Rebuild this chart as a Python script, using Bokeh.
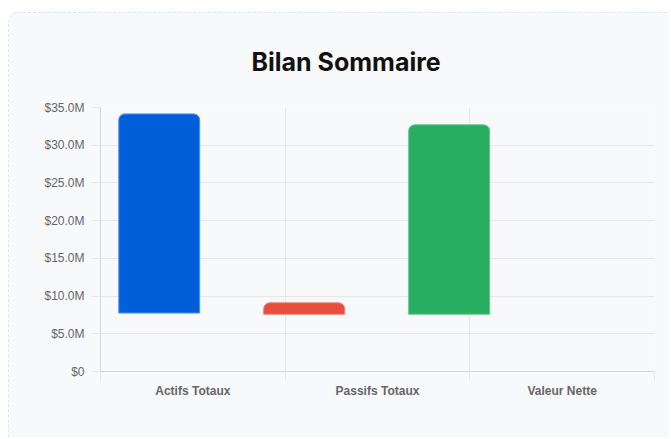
from bokeh.plotting import figure
from bokeh.models import FixedTicker, Range1d
from bokeh.embed import file_html
from bokeh.resources import INLINE

# ---- data (values in millions of $) ----
categories = ["Actifs Totaux", "Passifs Totaux", "Valeur Nette"]
bar_top = [34.15, 9.1, 32.7]
bar_bottom = [7.75, 7.6, 7.6]
bar_colors = ["#005fd8", "#e74c3c", "#27ae60"]
bar_edge = ["#4a90f0", "#f07a6c", "#5cc887"]
bar_pos = [0.318, 1.103, 1.888]          # horizontal placement as drawn in the reference
y_ticks = [0, 5, 10, 15, 20, 25, 30, 35]
y_tick_labels = ["$0", "$5.0M", "$10.0M", "$15.0M", "$20.0M", "$25.0M", "$30.0M", "$35.0M"]
title_text = "Bilan Sommaire"

BG = "#f8f9fb"
GRID = "#e6e6e6"
AXIS = "#d4d4d4"
TXT = "#666666"

p = figure(width=661, height=425, x_range=Range1d(0, len(categories)), y_range=Range1d(0, 35),
           output_backend="svg", toolbar_location=None,
           min_border_left=91, min_border_right=16, min_border_top=40, min_border_bottom=67)
p.styles = {"margin-top": "12px", "margin-left": "8px",
            "border-top": "1px dashed #d3e3f9", "border-left": "1px dashed #d3e3f9",
            "border-top-left-radius": "10px", "overflow": "hidden"}
p.background_fill_color = BG
p.border_fill_color = BG
p.outline_line_color = None

p.title.text = title_text
p.title.align = "left"
p.title.offset = 151
p.title.vertical_align = "bottom"
p.title.standoff = 62
p.title.text_font = "Inter"
p.title.text_font_style = "bold"
p.title.text_font_size = "25px"
p.title.text_color = "#111111"

p.vbar(x=bar_pos, width=0.438, top=bar_top, bottom=bar_bottom, fill_color=bar_colors,
       line_color=bar_edge, line_width=1, border_radius=(6, 6, 0, 0))

cat_centers = [i + 0.5 for i in range(len(categories))]
cat_edges = [i for i in range(len(categories) + 1)]

xa = p.xaxis[0]
xa.ticker = FixedTicker(ticks=cat_centers, minor_ticks=cat_edges)
xa.major_label_overrides = {c: lab for c, lab in zip(cat_centers, categories)}
xa.major_tick_line_color = None
xa.minor_tick_in = 0
xa.minor_tick_out = 9
xa.minor_tick_line_color = GRID
xa.axis_line_color = AXIS
xa.major_label_text_font = "Liberation Sans"
xa.major_label_text_font_style = "bold"
xa.major_label_text_font_size = "12px"
xa.major_label_text_color = TXT
xa.major_label_standoff = 3

ya = p.yaxis[0]
ya.ticker = FixedTicker(ticks=y_ticks)
ya.major_label_overrides = {t: lab for t, lab in zip(y_ticks, y_tick_labels)}
ya.major_tick_in = 0
ya.major_tick_out = 9
ya.major_tick_line_color = GRID
ya.minor_tick_line_color = None
ya.axis_line_color = AXIS
ya.major_label_text_font = "Liberation Sans"
ya.major_label_text_font_size = "12px"
ya.major_label_text_color = TXT
ya.major_label_standoff = 7

p.xgrid.ticker = FixedTicker(ticks=cat_edges)
p.xgrid.grid_line_color = GRID
p.ygrid.ticker = FixedTicker(ticks=y_ticks)
p.ygrid.grid_line_color = GRID

open("out.html", "w").write(file_html(p, INLINE))
